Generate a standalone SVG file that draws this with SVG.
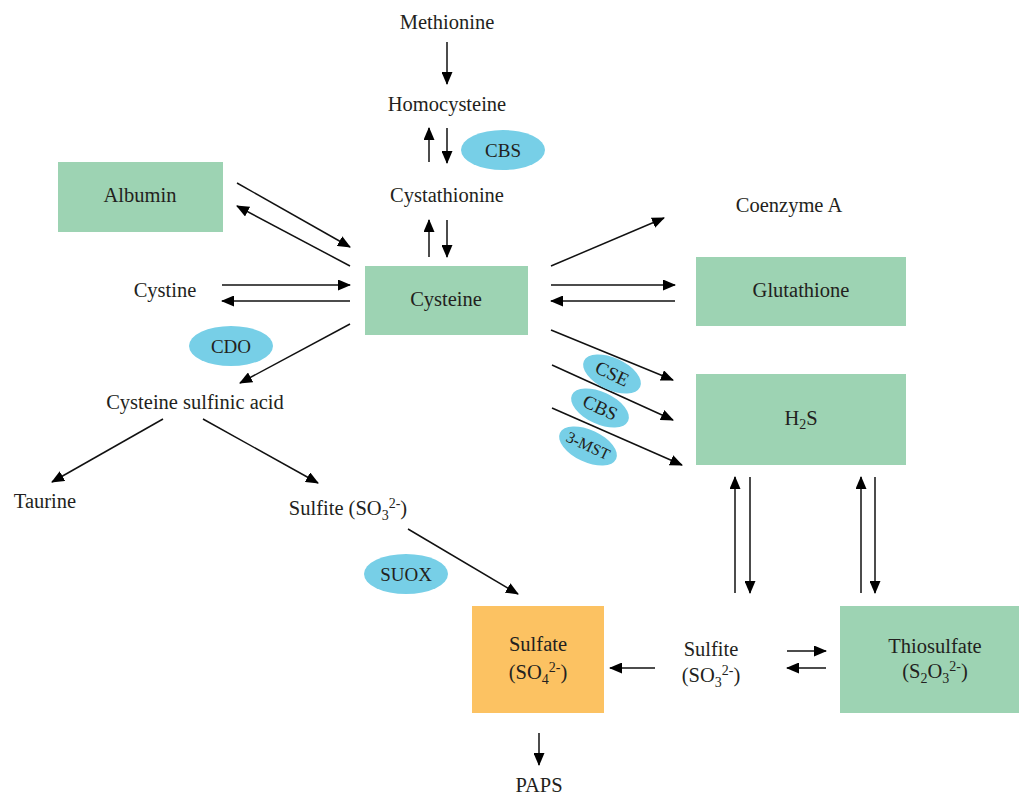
<svg xmlns="http://www.w3.org/2000/svg" width="1019" height="794" viewBox="0 0 1019 794" font-family="'Liberation Serif', 'Times New Roman', serif">
<style>
text{font-family:"Liberation Serif","Times New Roman",serif;font-size:20.5px;fill:#231f20;text-anchor:middle}
.box{fill:#9dd3b3}
.orange{fill:#fcc262}
.enz{fill:#77cfe7}
.ct line{stroke:#111;stroke-width:1.5;marker-end:url(#ah)}
.sm{font-size:14px}
.et{font-size:19px}
</style>
<defs>
<marker id="ah" markerUnits="userSpaceOnUse" markerWidth="13" markerHeight="11" refX="12" refY="5.5" orient="auto">
<path d="M0,0 L13,5.5 L0,11 z" fill="#000"/>
</marker>
</defs>
<rect width="1019" height="794" fill="#fff"/>
<g class="ct" id="connectors">
<line x1="447" y1="42" x2="447" y2="84"/>
<line x1="429" y1="162" x2="429" y2="128"/>
<line x1="447" y1="128" x2="447" y2="163"/>
<line x1="429" y1="257" x2="429" y2="220"/>
<line x1="447" y1="220" x2="447" y2="257"/>
<line x1="237" y1="183" x2="350" y2="247"/>
<line x1="350" y1="266" x2="237" y2="206"/>
<line x1="222" y1="285" x2="350" y2="285"/>
<line x1="350" y1="301" x2="222" y2="301"/>
<line x1="350" y1="324" x2="240" y2="383"/>
<line x1="163" y1="419" x2="52" y2="482"/>
<line x1="203" y1="419" x2="318" y2="483"/>
<line x1="408" y1="529" x2="518" y2="594"/>
<line x1="551" y1="266" x2="664" y2="218"/>
<line x1="551" y1="285" x2="675" y2="285"/>
<line x1="675" y1="301" x2="551" y2="301"/>
<line x1="551" y1="330" x2="673" y2="380"/>
<line x1="552" y1="365" x2="673" y2="420"/>
<line x1="552" y1="408" x2="682" y2="465"/>
<line x1="735" y1="593" x2="735" y2="477"/>
<line x1="750" y1="477" x2="750" y2="593"/>
<line x1="861" y1="593" x2="861" y2="477"/>
<line x1="875" y1="477" x2="875" y2="593"/>
<line x1="655" y1="668" x2="610" y2="668"/>
<line x1="787" y1="651" x2="826" y2="651"/>
<line x1="826" y1="668" x2="787" y2="668"/>
<line x1="539" y1="733" x2="539" y2="765"/>
</g>
<g id="methionine"><text x="447" y="29">Methionine</text></g>
<g id="homocysteine"><text x="447" y="111">Homocysteine</text></g>
<g id="cbs1"><ellipse class="enz" cx="503" cy="150" rx="42" ry="20"/><text class="et" x="503" y="157">CBS</text></g>
<g id="cystathionine"><text x="447" y="202">Cystathionine</text></g>
<g id="albumin"><rect class="box" x="58" y="162" width="165" height="70"/><text x="140" y="202">Albumin</text></g>
<g id="coenzymeA"><text x="789" y="212">Coenzyme A</text></g>
<g id="cystine"><text x="165" y="297">Cystine</text></g>
<g id="cysteine"><rect class="box" x="365" y="266" width="163" height="69"/><text x="446" y="306">Cysteine</text></g>
<g id="glutathione"><rect class="box" x="696" y="257" width="210" height="69"/><text x="801" y="297">Glutathione</text></g>
<g id="cdo"><ellipse class="enz" cx="231" cy="346" rx="42" ry="20"/><text class="et" x="231" y="353">CDO</text></g>
<g id="csa"><text x="195" y="409">Cysteine sulfinic acid</text></g>
<g id="cse"><ellipse class="enz" cx="612" cy="374" rx="31" ry="16" transform="rotate(25 612 374)"/><text class="et" x="612" y="380" transform="rotate(25 612 374)">CSE</text></g>
<g id="cbs2"><ellipse class="enz" cx="600" cy="408" rx="31" ry="16" transform="rotate(25 600 408)"/><text class="et" x="600" y="414" transform="rotate(25 600 408)">CBS</text></g>
<g id="mst"><ellipse class="enz" cx="588" cy="446" rx="31" ry="16" transform="rotate(25 588 446)"/><text x="588" y="451" transform="rotate(25 588 446)" style="font-size:16px">3-MST</text></g>
<g id="h2s"><rect class="box" x="696" y="374" width="210" height="91"/><text x="801" y="425">H<tspan class="sm" dy="4">2</tspan><tspan dy="-4">S</tspan></text></g>
<g id="taurine"><text x="45" y="508">Taurine</text></g>
<g id="sulfite1"><text x="348" y="515">Sulfite (SO<tspan class="sm" dy="5">3</tspan><tspan class="sm" dy="-12">2-</tspan><tspan dy="7">)</tspan></text></g>
<g id="suox"><ellipse class="enz" cx="406" cy="574" rx="42" ry="20"/><text class="et" x="406" y="581">SUOX</text></g>
<g id="sulfate"><rect class="orange" x="472" y="606" width="132" height="107"/><text x="538" y="651">Sulfate</text><text x="538" y="679">(SO<tspan class="sm" dy="5">4</tspan><tspan class="sm" dy="-12">2-</tspan><tspan dy="7">)</tspan></text></g>
<g id="sulfite2"><text x="711" y="656">Sulfite</text><text x="711" y="682">(SO<tspan class="sm" dy="5">3</tspan><tspan class="sm" dy="-12">2-</tspan><tspan dy="7">)</tspan></text></g>
<g id="thiosulfate"><rect class="box" x="840" y="606" width="179" height="107"/><text x="935" y="653">Thiosulfate</text><text x="935" y="678">(S<tspan class="sm" dy="5">2</tspan><tspan dy="-5">O</tspan><tspan class="sm" dy="5">3</tspan><tspan class="sm" dy="-12">2-</tspan><tspan dy="7">)</tspan></text></g>
<g id="paps"><text x="539" y="792">PAPS</text></g>
</svg>
